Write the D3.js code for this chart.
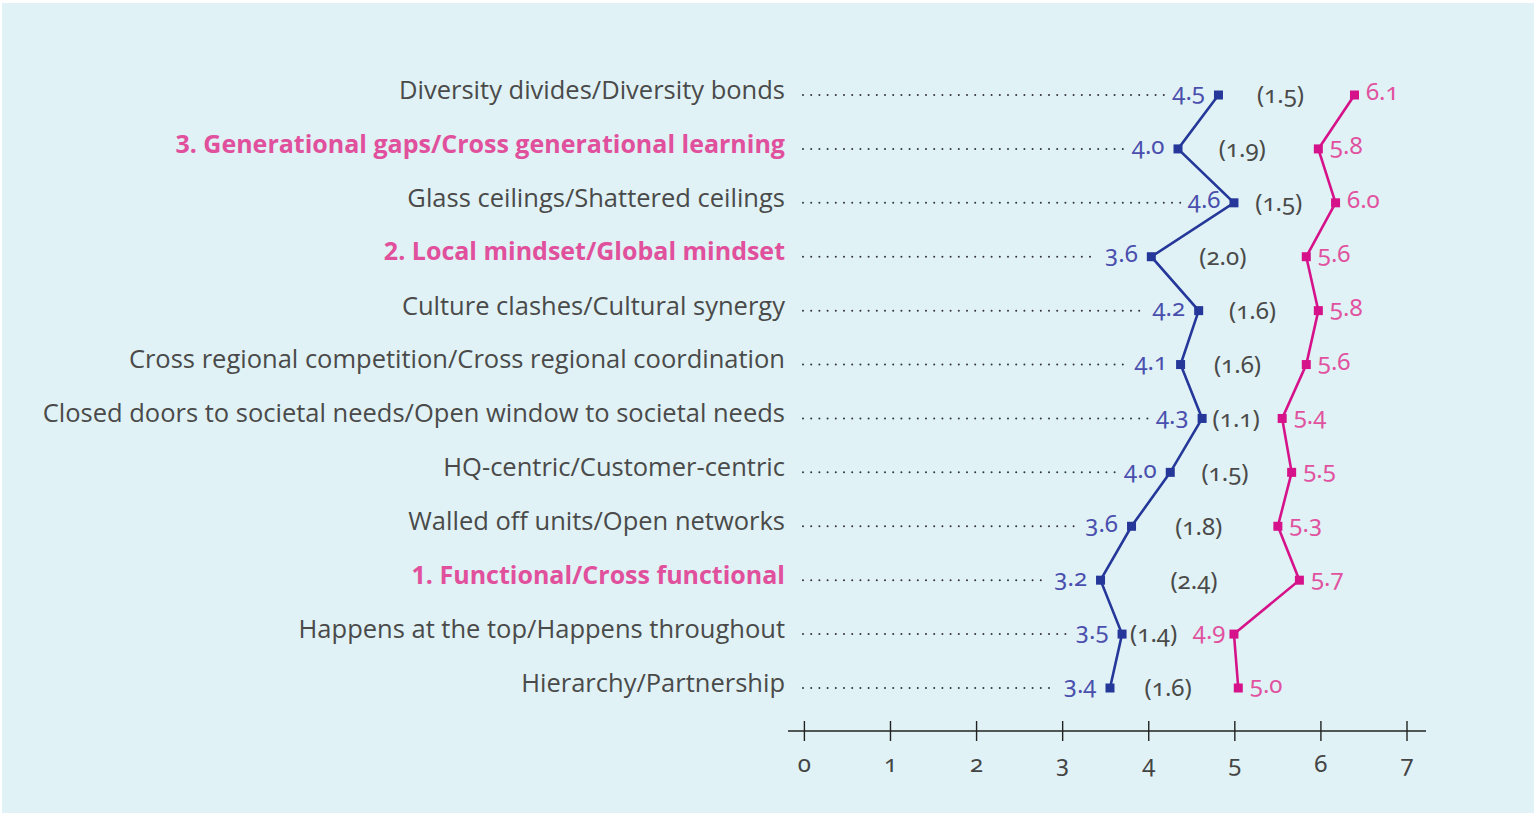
<!DOCTYPE html>
<html>
<head>
<meta charset="utf-8">
<script src="https://cdn.jsdelivr.net/npm/d3@7"></script>
<style>
  body { margin: 0; background: #fff; }
  svg { display: block; }
  .lbl { font-family: "Open Sans", sans-serif; font-size: 25.5px; fill: #4a4a4a; }
  .lbl.hi { font-weight: 700; fill: #e0509c; font-size: 25px; }
  .num { font-family: "Noto Sans", sans-serif; font-size: 24px; font-feature-settings: "onum"; }
</style>
</head>
<body>
<svg id="svg" width="1534" height="813"></svg>
<script>
// data
const categories = [
  "Diversity divides/Diversity bonds",
  "3. Generational gaps/Cross generational learning",
  "Glass ceilings/Shattered ceilings",
  "2. Local mindset/Global mindset",
  "Culture clashes/Cultural synergy",
  "Cross regional competition/Cross regional coordination",
  "Closed doors to societal needs/Open window to societal needs",
  "HQ-centric/Customer-centric",
  "Walled off units/Open networks",
  "1. Functional/Cross functional",
  "Happens at the top/Happens throughout",
  "Hierarchy/Partnership"
];
const highlighted = [false, true, false, true, false, false, false, false, false, true, false, false];

// where the points sit on the axis, and the printed labels
const bluePos = [4.81, 4.34, 4.99, 4.03, 4.58, 4.37, 4.62, 4.25, 3.80, 3.44, 3.69, 3.55];
const blueLabels = ["4.5", "4.0", "4.6", "3.6", "4.2", "4.1", "4.3", "4.0", "3.6", "3.2", "3.5", "3.4"];
const pinkPos = [6.39, 5.97, 6.17, 5.83, 5.97, 5.83, 5.55, 5.66, 5.50, 5.75, 4.99, 5.04];
const pinkLabels = ["6.1", "5.8", "6.0", "5.6", "5.8", "5.6", "5.4", "5.5", "5.3", "5.7", "4.9", "5.0"];
const gapLabels = ["(1.5)", "(1.9)", "(1.5)", "(2.0)", "(1.6)", "(1.6)", "(1.1)", "(1.5)", "(1.8)", "(2.4)", "(1.4)", "(1.6)"];
const tickValues = [0, 1, 2, 3, 4, 5, 6, 7];

const svg = d3.select('#svg');
const blueCol = '#25389a', blueTxt = '#4a4fae';
const pinkCol = '#d6128b', pinkTxt = '#e0529f';
const sq = 9;

svg.append('rect')
  .attr('x', 2).attr('y', 3)
  .attr('width', 1532).attr('height', 810)
  .attr('fill', '#e0f2f5');

const x = d3.scaleLinear().domain([0, 7]).range([804.4, 1407]);
const y = d3.scalePoint().domain(d3.range(categories.length)).range([90, 683]);
const py = i => y(i) + 5;

// category labels
svg.selectAll('.lbl').data(categories).enter()
  .append('text')
  .attr('class', (d, i) => highlighted[i] ? 'lbl hi' : 'lbl')
  .attr('x', 785)
  .attr('y', (d, i) => y(i))
  .attr('dy', '0.35em')
  .attr('text-anchor', 'end')
  .text(d => d);

// blue value labels (left of points)
const blueT = svg.selectAll('.bl').data(blueLabels).enter()
  .append('text')
  .attr('class', 'num bl')
  .attr('fill', blueTxt)
  .attr('x', (d, i) => x(bluePos[i]) - sq / 2 - 9)
  .attr('y', (d, i) => py(i) - 3)
  .attr('dy', '0.35em')
  .attr('text-anchor', 'end')
  .text(d => d);

// pink value labels (right of points, left on row 10)
const pinkLeft = [10];
const pinkT = svg.selectAll('.pl').data(pinkLabels).enter()
  .append('text')
  .attr('class', 'num pl')
  .attr('fill', pinkTxt)
  .attr('x', (d, i) => pinkLeft.includes(i) ? x(pinkPos[i]) - sq / 2 - 4 : x(pinkPos[i]) + sq / 2 + 7)
  .attr('y', (d, i) => py(i) - 3)
  .attr('dy', '0.35em')
  .attr('text-anchor', (d, i) => pinkLeft.includes(i) ? 'end' : 'start')
  .text(d => d);

// leader dots up to the blue labels
const blueW = blueT.nodes().map(n => n.getComputedTextLength());
svg.selectAll('.lead').data(categories).enter()
  .append('line')
  .attr('x1', 803)
  .attr('x2', (d, i) => x(bluePos[i]) - sq / 2 - 9 - blueW[i] - 7)
  .attr('y1', (d, i) => y(i) + 5)
  .attr('y2', (d, i) => y(i) + 5)
  .attr('stroke', '#333')
  .attr('stroke-width', 2)
  .attr('stroke-linecap', 'round')
  .attr('stroke-dasharray', '0 8.2');

// gap labels, between the two series
const pinkW = pinkT.nodes().map(n => n.getComputedTextLength());
svg.selectAll('.gl').data(gapLabels).enter()
  .append('text')
  .attr('class', 'num gl')
  .attr('fill', '#4a4a4a')
  .attr('x', (d, i) => {
    const left = x(bluePos[i]) + sq / 2;
    const right = pinkLeft.includes(i) ? x(pinkPos[i]) - sq / 2 - 4 - pinkW[i] : x(pinkPos[i]) - sq / 2;
    return (left + right) / 2 - 6;
  })
  .attr('y', (d, i) => py(i))
  .attr('dy', '0.35em')
  .attr('text-anchor', 'middle')
  .text(d => d);

// lines + square markers
const line = d3.line().x(d => x(d[0])).y(d => py(d[1]));
[[bluePos, blueCol], [pinkPos, pinkCol]].forEach(([vals, col]) => {
  svg.append('path')
    .attr('d', line(vals.map((v, i) => [v, i])))
    .attr('fill', 'none')
    .attr('stroke', col)
    .attr('stroke-width', 2.6);
  svg.selectAll(null).data(vals).enter()
    .append('rect')
    .attr('x', d => x(d) - sq / 2)
    .attr('y', (d, i) => py(i) - sq / 2)
    .attr('width', sq).attr('height', sq)
    .attr('fill', col);
});

// bottom axis
const axisY = 731;
svg.append('line')
  .attr('x1', 788).attr('x2', 1426)
  .attr('y1', axisY).attr('y2', axisY)
  .attr('stroke', '#222').attr('stroke-width', 1.4);
svg.selectAll('.tk').data(tickValues).enter()
  .append('line')
  .attr('x1', d => x(d)).attr('x2', d => x(d))
  .attr('y1', axisY - 10).attr('y2', axisY + 10)
  .attr('stroke', '#222').attr('stroke-width', 1.4);
svg.selectAll('.tl').data(tickValues).enter()
  .append('text')
  .attr('class', 'num')
  .attr('fill', '#444')
  .attr('font-size', 23)
  .attr('x', d => x(d))
  .attr('y', 772)
  .attr('text-anchor', 'middle')
  .text(d => d);
</script>
</body>
</html>
